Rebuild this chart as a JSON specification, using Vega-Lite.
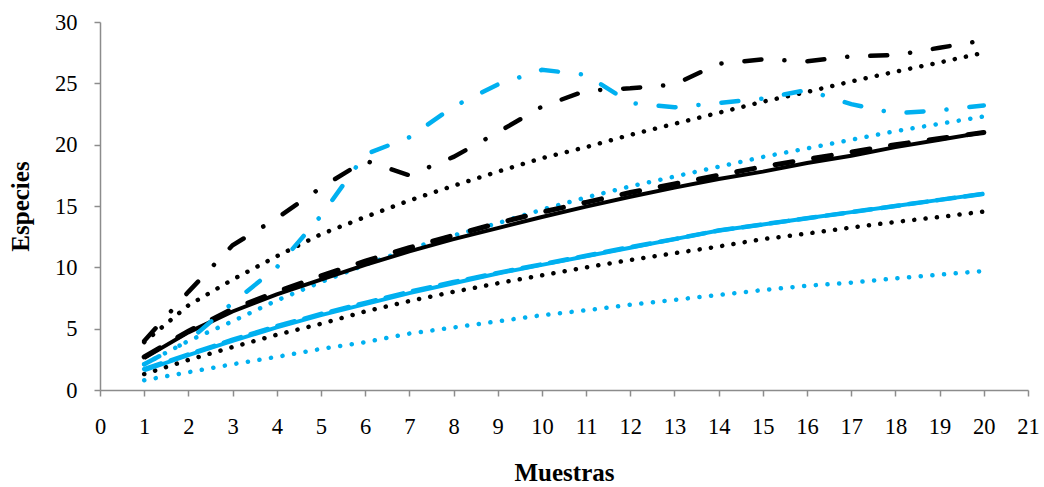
{
  "$schema": "https://vega.github.io/schema/vega-lite/v6.json",
  "autosize": "none",
  "width": 928,
  "height": 368,
  "padding": {"left": 100, "top": 22, "right": 16, "bottom": 97},
  "background": "white",
  "config": {
    "view": {"stroke": null},
    "axis": {
      "grid": false,
      "domainColor": "#8c8c8c",
      "domainWidth": 1.5,
      "tickColor": "#8c8c8c",
      "tickWidth": 1.5,
      "tickSize": 6,
      "labelFont": "Liberation Serif",
      "labelFontSize": 22.5,
      "labelColor": "#000000",
      "titleFont": "Liberation Serif",
      "titleFontSize": 25,
      "titleFontWeight": "bold",
      "titleColor": "#000000"
    }
  },
  "data": {
    "values": [
      {"Muestras": 1, "negro_sobs": 2.6, "negro_guion": 2.7, "negro_gp": 4.0, "negro_sup": 3.9, "negro_inf": 1.3, "azul_sobs": 1.6, "azul_guion": 1.7, "azul_gp": 2.1, "azul_sup": 2.1, "azul_inf": 0.8},
      {"Muestras": 2, "negro_sobs": 4.7, "negro_guion": 4.8, "negro_gp": 8.0, "negro_sup": 6.9, "negro_inf": 2.45, "azul_sobs": 2.85, "azul_guion": 2.9, "azul_gp": 4.0, "azul_sup": 4.0, "azul_inf": 1.45},
      {"Muestras": 3, "negro_sobs": 6.4, "negro_guion": 6.6, "negro_gp": 11.8, "negro_sup": 9.0, "negro_inf": 3.5, "azul_sobs": 4.0, "azul_guion": 4.1, "azul_gp": 7.1, "azul_sup": 5.6, "azul_inf": 2.1},
      {"Muestras": 4, "negro_sobs": 7.8, "negro_guion": 8.0, "negro_gp": 14.0, "negro_sup": 10.9, "negro_inf": 4.5, "azul_sobs": 5.1, "azul_guion": 5.2, "azul_gp": 10.0, "azul_sup": 7.3, "azul_inf": 2.7},
      {"Muestras": 5, "negro_sobs": 9.0, "negro_guion": 9.3, "negro_gp": 16.5, "negro_sup": 12.7, "negro_inf": 5.4, "azul_sobs": 6.1, "azul_guion": 6.2, "azul_gp": 14.2, "azul_sup": 8.8, "azul_inf": 3.35},
      {"Muestras": 6, "negro_sobs": 10.2, "negro_guion": 10.5, "negro_gp": 18.7, "negro_sup": 14.1, "negro_inf": 6.4, "azul_sobs": 7.0, "azul_guion": 7.1, "azul_gp": 19.2, "azul_sup": 10.2, "azul_inf": 3.9},
      {"Muestras": 7, "negro_sobs": 11.3, "negro_guion": 11.6, "negro_gp": 17.5, "negro_sup": 15.45, "negro_inf": 7.25, "azul_sobs": 7.9, "azul_guion": 8.0, "azul_gp": 20.6, "azul_sup": 11.5, "azul_inf": 4.6},
      {"Muestras": 8, "negro_sobs": 12.3, "negro_guion": 12.6, "negro_gp": 19.0, "negro_sup": 16.65, "negro_inf": 8.0, "azul_sobs": 8.7, "azul_guion": 8.8, "azul_gp": 23.1, "azul_sup": 12.6, "azul_inf": 5.1},
      {"Muestras": 9, "negro_sobs": 13.2, "negro_guion": 13.6, "negro_gp": 21.0, "negro_sup": 17.8, "negro_inf": 8.7, "azul_sobs": 9.5, "azul_guion": 9.55, "azul_gp": 24.9, "azul_sup": 13.6, "azul_inf": 5.6},
      {"Muestras": 10, "negro_sobs": 14.1, "negro_guion": 14.5, "negro_gp": 23.1, "negro_sup": 18.9, "negro_inf": 9.35, "azul_sobs": 10.2, "azul_guion": 10.25, "azul_gp": 26.1, "azul_sup": 14.7, "azul_inf": 6.1},
      {"Muestras": 11, "negro_sobs": 14.95, "negro_guion": 15.3, "negro_gp": 24.4, "negro_sup": 19.8, "negro_inf": 10.0, "azul_sobs": 10.9, "azul_guion": 10.95, "azul_gp": 25.7, "azul_sup": 15.7, "azul_inf": 6.5},
      {"Muestras": 12, "negro_sobs": 15.75, "negro_guion": 16.1, "negro_gp": 24.6, "negro_sup": 20.8, "negro_inf": 10.6, "azul_sobs": 11.6, "azul_guion": 11.65, "azul_gp": 23.4, "azul_sup": 16.6, "azul_inf": 6.95},
      {"Muestras": 13, "negro_sobs": 16.5, "negro_guion": 16.8, "negro_gp": 24.9, "negro_sup": 21.7, "negro_inf": 11.15, "azul_sobs": 12.3, "azul_guion": 12.3, "azul_gp": 23.05, "azul_sup": 17.4, "azul_inf": 7.35},
      {"Muestras": 14, "negro_sobs": 17.2, "negro_guion": 17.5, "negro_gp": 26.6, "negro_sup": 22.6, "negro_inf": 11.7, "azul_sobs": 13.0, "azul_guion": 13.0, "azul_gp": 23.4, "azul_sup": 18.2, "azul_inf": 7.75},
      {"Muestras": 15, "negro_sobs": 17.8, "negro_guion": 18.2, "negro_gp": 26.95, "negro_sup": 23.5, "negro_inf": 12.3, "azul_sobs": 13.5, "azul_guion": 13.5, "azul_gp": 23.75, "azul_sup": 19.0, "azul_inf": 8.15},
      {"Muestras": 16, "negro_sobs": 18.5, "negro_guion": 18.8, "negro_gp": 26.8, "negro_sup": 24.3, "negro_inf": 12.75, "azul_sobs": 14.0, "azul_guion": 14.0, "azul_gp": 24.45, "azul_sup": 19.7, "azul_inf": 8.5},
      {"Muestras": 17, "negro_sobs": 19.1, "negro_guion": 19.4, "negro_gp": 27.2, "negro_sup": 25.15, "negro_inf": 13.25, "azul_sobs": 14.5, "azul_guion": 14.5, "azul_gp": 23.3, "azul_sup": 20.4, "azul_inf": 8.75},
      {"Muestras": 18, "negro_sobs": 19.8, "negro_guion": 20.0, "negro_gp": 27.3, "negro_sup": 25.95, "negro_inf": 13.7, "azul_sobs": 15.0, "azul_guion": 15.0, "azul_gp": 22.55, "azul_sup": 21.1, "azul_inf": 9.1},
      {"Muestras": 19, "negro_sobs": 20.4, "negro_guion": 20.5, "negro_gp": 27.9, "negro_sup": 26.7, "negro_inf": 14.1, "azul_sobs": 15.5, "azul_guion": 15.5, "azul_gp": 22.8, "azul_sup": 21.7, "azul_inf": 9.4},
      {"Muestras": 20, "negro_sobs": 21.0, "negro_guion": 21.0, "negro_gp": 28.5, "negro_sup": 27.5, "negro_inf": 14.55, "azul_sobs": 16.0, "azul_guion": 16.0, "azul_gp": 23.2, "azul_sup": 22.3, "azul_inf": 9.7}
    ]
  },
  "encoding": {
    "x": {
      "field": "Muestras",
      "type": "quantitative",
      "scale": {"domain": [0, 21], "nice": false, "zero": false},
      "axis": {"values": [0,1,2,3,4,5,6,7,8,9,10,11,12,13,14,15,16,17,18,19,20,21], "labelPadding": 19, "title": "Muestras", "titlePadding": 23, "labelFlush": false}
    }
  },
  "layer": [
    {
      "mark": {"type": "line", "color": "#00B0F0", "strokeWidth": 4.5, "strokeDash": [0.1, 11.6], "strokeCap": "round"},
      "encoding": {"y": {"field": "azul_inf", "type": "quantitative", "scale": {"domain": [0, 30], "nice": false}, "axis": {"values": [0,5,10,15,20,25,30], "labelPadding": 17, "title": "Especies", "titlePadding": 21}}}
    },
    {
      "mark": {"type": "line", "color": "#000000", "strokeWidth": 4.5, "strokeDash": [0.1, 11.3], "strokeCap": "round"},
      "encoding": {"y": {"field": "negro_inf", "type": "quantitative"}}
    },
    {
      "mark": {"type": "line", "color": "#000000", "strokeWidth": 4.5, "strokeDash": [0.1, 11.3], "strokeCap": "round"},
      "encoding": {"y": {"field": "negro_sup", "type": "quantitative"}}
    },
    {
      "mark": {"type": "line", "color": "#00B0F0", "strokeWidth": 4.5, "strokeDash": [0.1, 11.6], "strokeCap": "round"},
      "encoding": {"y": {"field": "azul_sup", "type": "quantitative"}}
    },
    {
      "mark": {"type": "line", "color": "#00B0F0", "strokeWidth": 4.5, "strokeDash": [18, 10], "strokeCap": "round"},
      "encoding": {"y": {"field": "azul_guion", "type": "quantitative"}}
    },
    {
      "mark": {"type": "line", "color": "#00B0F0", "strokeWidth": 4},
      "encoding": {"y": {"field": "azul_sobs", "type": "quantitative"}}
    },
    {
      "mark": {"type": "line", "color": "#000000", "strokeWidth": 4},
      "encoding": {"y": {"field": "negro_sobs", "type": "quantitative"}}
    },
    {
      "mark": {"type": "line", "color": "#000000", "strokeWidth": 5, "strokeDash": [18, 21], "strokeCap": "round"},
      "encoding": {"y": {"field": "negro_guion", "type": "quantitative"}}
    },
    {
      "mark": {"type": "line", "color": "#00B0F0", "strokeWidth": 4.5, "strokeDash": [17, 23, 0.1, 23], "strokeCap": "round"},
      "encoding": {"y": {"field": "azul_gp", "type": "quantitative"}}
    },
    {
      "mark": {"type": "line", "color": "#000000", "strokeWidth": 4.5, "strokeDash": [17, 23, 0.1, 23], "strokeCap": "round"},
      "encoding": {"y": {"field": "negro_gp", "type": "quantitative"}}
    }
  ]
}
